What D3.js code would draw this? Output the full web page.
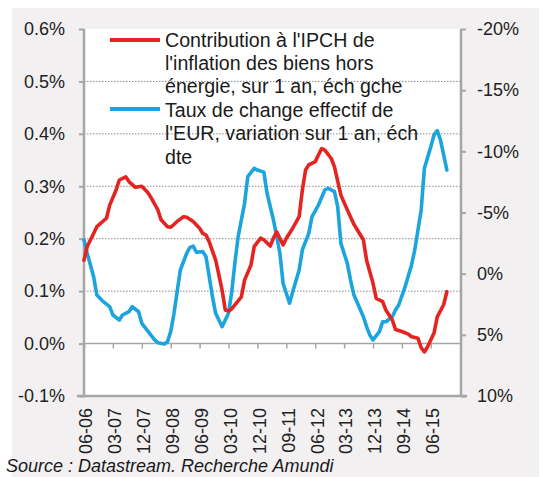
<!DOCTYPE html>
<html><head><meta charset="utf-8">
<script src="https://cdn.jsdelivr.net/npm/d3@7"></script>
<style>
html,body{margin:0;padding:0;background:#fff;}
svg{display:block;font-family:"Liberation Sans",Arial,sans-serif;}
</style></head>
<body>
<svg id="chart" width="546" height="477"></svg>
<script>
// ---- DATA ----
const redDates = ["2006-06","2006-07","2006-09","2006-10","2007-01","2007-02","2007-04","2007-05","2007-07","2007-08","2007-10","2007-12","2008-02","2008-03","2008-05","2008-06","2008-08","2008-09","2008-10","2008-11","2009-01","2009-02","2009-04","2009-06","2009-07","2009-08","2009-09","2009-11","2009-12","2010-01","2010-02","2010-03","2010-04","2010-05","2010-07","2010-08","2010-10","2010-11","2011-01","2011-02","2011-04","2011-05","2011-06","2011-08","2011-09","2011-11","2012-01","2012-02","2012-03","2012-04","2012-06","2012-08","2012-09","2012-11","2012-12","2013-02","2013-04","2013-06","2013-09","2013-10","2013-12","2014-01","2014-03","2014-04","2014-06","2014-07","2014-09","2014-11","2014-12","2015-02","2015-03","2015-04","2015-05","2015-07","2015-08","2015-10","2015-11"];
const redValues = [0.159,0.185,0.210,0.223,0.239,0.264,0.293,0.312,0.318,0.309,0.298,0.300,0.287,0.277,0.255,0.236,0.223,0.222,0.227,0.233,0.242,0.241,0.233,0.220,0.210,0.207,0.194,0.159,0.131,0.102,0.064,0.062,0.066,0.074,0.089,0.121,0.150,0.185,0.201,0.198,0.186,0.201,0.213,0.188,0.201,0.220,0.242,0.293,0.331,0.341,0.347,0.372,0.369,0.353,0.337,0.283,0.255,0.228,0.198,0.159,0.115,0.086,0.080,0.064,0.045,0.027,0.023,0.018,0.013,0.010,-0.008,-0.016,-0.006,0.020,0.051,0.074,0.099];

const blueDates = ["2006-06","2006-07","2006-09","2006-10","2006-12","2007-02","2007-03","2007-05","2007-06","2007-08","2007-09","2007-11","2007-12","2008-02","2008-04","2008-05","2008-07","2008-08","2008-09","2008-10","2008-11","2008-12","2009-02","2009-03","2009-04","2009-05","2009-07","2009-08","2009-09","2009-10","2009-11","2009-12","2010-01","2010-03","2010-04","2010-05","2010-06","2010-08","2010-09","2010-11","2010-12","2011-02","2011-03","2011-05","2011-07","2011-08","2011-10","2011-11","2012-01","2012-02","2012-04","2012-05","2012-07","2012-09","2012-10","2012-12","2013-01","2013-02","2013-04","2013-05","2013-06","2013-09","2013-10","2013-11","2013-12","2014-02","2014-03","2014-04","2014-06","2014-07","2014-08","2014-10","2014-12","2015-01","2015-03","2015-04","2015-06","2015-07","2015-08","2015-09","2015-11"];
const blueValues = [-2.75,-1.67,0.25,1.74,2.29,2.70,3.38,3.79,3.38,3.11,2.70,3.11,4.06,4.74,5.42,5.64,5.75,5.56,4.74,3.30,1.47,-0.30,-1.67,-2.15,-2.25,-1.75,-1.80,-1.39,0.25,1.88,3.24,3.79,4.33,3.24,1.50,-0.90,-3.02,-5.75,-7.93,-8.61,-8.47,-8.30,-6.57,-4.39,-1.67,0.79,2.42,1.47,-0.30,-1.94,-3.30,-4.66,-5.61,-6.84,-6.98,-6.70,-5.48,-2.48,-0.84,0.52,1.70,3.52,4.33,5.01,5.42,4.74,3.93,3.93,3.52,2.97,2.56,1.06,-0.71,-1.94,-5.21,-8.61,-10.38,-11.34,-11.69,-10.93,-8.47];

const xLabels = ["06-06","03-07","12-07","09-08","06-09","03-10","12-10","09-11","06-12","03-13","12-13","09-14","06-15"];
const leftTicks = [-0.1,0,0.1,0.2,0.3,0.4,0.5,0.6];
const rightTicks = [-20,-15,-10,-5,0,5,10];
const legendRed = ["Contribution à l'IPCH de","l'inflation des biens hors","énergie, sur 1 an, éch gche"];
const legendBlue = ["Taux de change effectif de","l'EUR, variation sur 1 an, éch","dte"];
const sourceText = "Source : Datastream. Recherche Amundi";

// ---- helpers ----
const monthIdx = s => { const [y,m] = s.split("-").map(Number); return (y-2006)*12 + (m-6); };
const labelIdx = s => { const [m,y] = s.split("-").map(Number); return (2000+y-2006)*12 + (m-6); };

const RED = "#e42421", BLUE = "#1ca4de", AXIS = "#a6a6a6";
const L = 84, R = 461, T = 29, B = 396;

const svg = d3.select("#chart");
svg.append("rect").attr("x",12).attr("y",8).attr("width",527).attr("height",469).attr("fill","#f2f0f1");
svg.append("rect").attr("x",L).attr("y",T).attr("width",R-L).attr("height",B-T).attr("fill","#fff");

const x = d3.scaleLinear().domain([0,117.4]).range([L,R]);
const yL = d3.scaleLinear().domain([-0.1,0.6]).range([B,T]);
const yR = d3.scaleLinear().domain([10,-20]).range([B,T]);

// gridlines
svg.append("g").selectAll("line").data(leftTicks.filter(d=>d>0 && d<0.6)).join("line")
  .attr("x1",L).attr("x2",R).attr("y1",d=>yL(d)).attr("y2",d=>yL(d))
  .attr("stroke","#8c8c8c").attr("stroke-width",1).attr("stroke-dasharray","1.5,1.5");

// zero line + x axis ticks
const xAxis = d3.axisBottom(x).tickValues(xLabels.map(labelIdx)).tickSize(5).tickFormat((d,i)=>xLabels[i]);
const gx = svg.append("g").attr("transform",`translate(0,${yL(0)})`).call(xAxis);
gx.select(".domain").attr("d",`M${L},0H${R}`).attr("stroke",AXIS).attr("stroke-width",1.5);
gx.selectAll(".tick line").attr("stroke",AXIS).attr("stroke-width",1.5);
gx.selectAll(".tick text").remove();

// x labels (rotated) at bottom
svg.append("g").selectAll("text").data(xLabels).join("text")
  .attr("transform",d=>`translate(${x(labelIdx(d))+2},408) rotate(-90)`)
  .attr("text-anchor","end").attr("dy","0.35em")
  .attr("font-size",18).attr("fill","#222").text(d=>d);

// left axis
const gl = svg.append("g").attr("transform",`translate(${L},0)`)
  .call(d3.axisLeft(yL).tickValues(leftTicks).tickSize(5).tickPadding(14).tickFormat(d=>d.toFixed(1)+"%"));
gl.select(".domain").remove();
gl.selectAll(".tick line").attr("stroke",AXIS).attr("stroke-width",2);
gl.selectAll(".tick text").attr("font-size",18).attr("fill","#222").attr("font-family","Liberation Sans, Arial, sans-serif");
svg.append("line").attr("x1",L).attr("x2",L).attr("y1",T).attr("y2",B).attr("stroke",AXIS).attr("stroke-width",2.5);

// right axis
const gr = svg.append("g").attr("transform",`translate(${R},0)`)
  .call(d3.axisRight(yR).tickValues(rightTicks).tickSize(5).tickPadding(11).tickFormat(d=>d+"%"));
gr.select(".domain").remove();
gr.selectAll(".tick line").attr("stroke",AXIS).attr("stroke-width",2);
gr.selectAll(".tick text").attr("font-size",18).attr("fill","#222").attr("font-family","Liberation Sans, Arial, sans-serif");
svg.append("line").attr("x1",R).attr("x2",R).attr("y1",T).attr("y2",B).attr("stroke",AXIS).attr("stroke-width",2.5);

// bottom border
svg.append("line").attr("x1",L-7).attr("x2",R+6).attr("y1",B).attr("y2",B).attr("stroke",AXIS).attr("stroke-width",2.5);

// series lines
const redData = redDates.map((d,i)=>({m:monthIdx(d),v:redValues[i]}));
const blueData = blueDates.map((d,i)=>({m:monthIdx(d),v:blueValues[i]}));
svg.append("path").datum(blueData)
  .attr("d",d3.line().x(d=>x(d.m)).y(d=>yR(d.v)))
  .attr("fill","none").attr("stroke",BLUE).attr("stroke-width",3.6).attr("stroke-linejoin","round").attr("stroke-linecap","round");
svg.append("path").datum(redData)
  .attr("d",d3.line().x(d=>x(d.m)).y(d=>yL(d.v)))
  .attr("fill","none").attr("stroke",RED).attr("stroke-width",3.6).attr("stroke-linejoin","round").attr("stroke-linecap","round");

// legend
const lg = svg.append("g");
lg.append("line").attr("x1",110).attr("x2",160).attr("y1",40).attr("y2",40).attr("stroke",RED).attr("stroke-width",4);
lg.append("line").attr("x1",110).attr("x2",160).attr("y1",109).attr("y2",109).attr("stroke",BLUE).attr("stroke-width",4);
legendRed.concat(legendBlue).forEach((t,i)=>{
  lg.append("text").attr("x",165).attr("y",46.5+i*23.4).attr("font-size",19.6).attr("fill","#1a1a1a").text(t);
});

// source
svg.append("text").attr("x",6).attr("y",472).attr("font-size",18).attr("font-style","italic").attr("fill","#1a1a1a").text(sourceText);
</script>
</body></html>
